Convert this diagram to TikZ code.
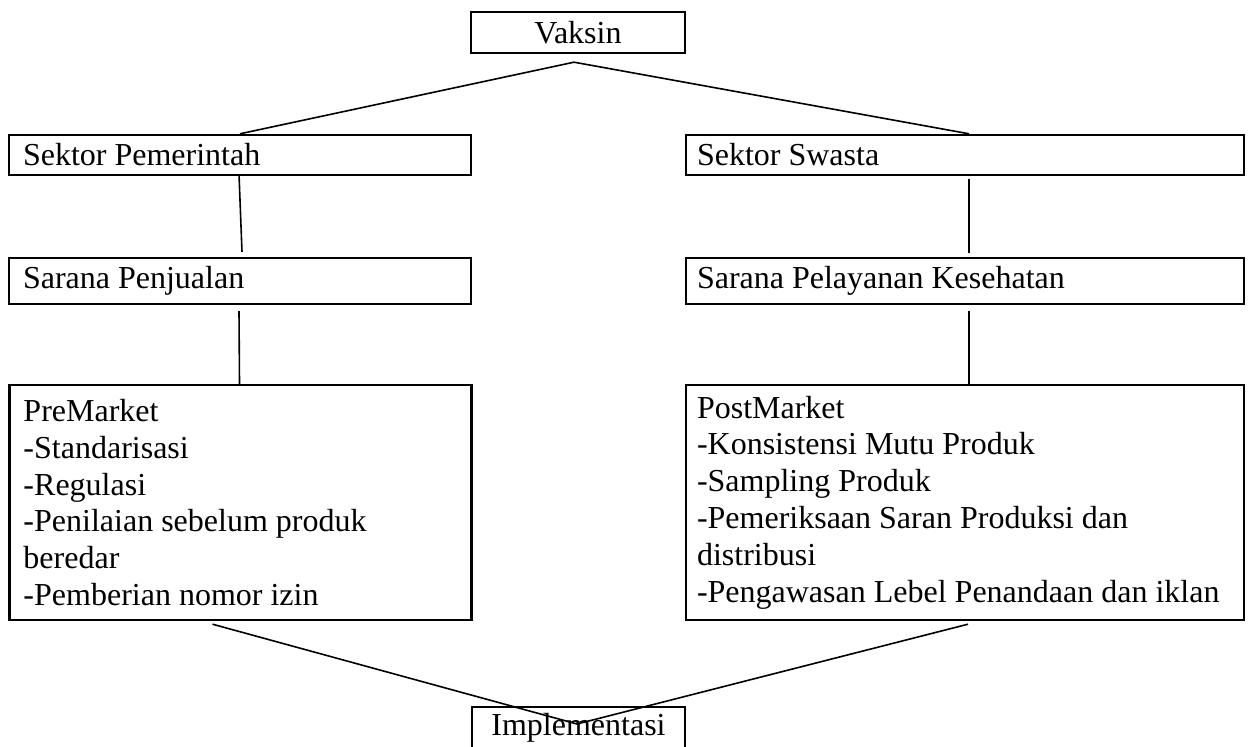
\documentclass[tikz,border=0pt]{standalone}
\usepackage{fontspec}
\setmainfont{Liberation Serif}
\usepackage{tikz}

\begin{document}
\begin{tikzpicture}[x=0.5pt,y=-0.5pt]
            \tikzstyle{box node}=[draw,line width=1.2pt,rectangle,inner xsep=7pt,inner ysep=0pt,align=flush left,font=\fontsize{16}{18.4}\selectfont]
            \tikzstyle{link}=[line width=0.8pt]
            \useasboundingbox (0,0) rectangle (1251,747);
            \clip (0,0) rectangle (1251,747);

            \node[box node,align=flush center,text width=93pt,minimum height=20.5pt] (V) at (578,32.5) {Vaksin};
            \node[box node,text width=217pt,minimum height=20pt] (SP) at (240,155) {Sektor Pemerintah};
            \node[box node,inner xsep=5.5pt,text width=268pt,minimum height=20pt] (SS) at (965,155) {Sektor Swasta};
            \node[box node,text width=217pt,minimum height=23pt] (PJ) at (240,281) {Sarana Penjualan};
            \node[box node,inner xsep=5.5pt,text width=268pt,minimum height=23pt] (PK) at (965,281) {Sarana Pelayanan Kesehatan};
            \node[box node,text width=217pt,minimum height=117.5pt] (Pre) at (240.5,502.5) {PreMarket\\-Standarisasi\\-Regulasi\\-Penilaian sebelum produk\\beredar\\-Pemberian nomor izin};
            \node[box node,inner xsep=5.5pt,text width=268pt,minimum height=117.5pt] (Post) at (965,502.5) {PostMarket\\-Konsistensi Mutu Produk\\-Sampling Produk\\-Pemeriksaan Saran Produksi dan\\distribusi\\-Pengawasan Lebel Penandaan dan iklan};
            \node[box node,align=flush center,text width=92.5pt,minimum height=21pt] (I) at (578.5,728) {Implementasi};

            \coordinate (Vt) at ([xshift=-2pt,yshift=-4pt]V.south);
            \coordinate (It) at ([xshift=-0.75pt,yshift=2pt]I.center);

            \draw[link] (Vt) -- (SP.north);
            \draw[link] (Vt) -- ([xshift=2pt]SS.north);
            \draw[link] ([xshift=-0.5pt,yshift=1pt]SP.south) -- ([xshift=1pt,yshift=2.5pt]PJ.north);
            \draw[link] ([xshift=2pt,yshift=-1.5pt]SS.south) -- ([xshift=2pt,yshift=2pt]PK.north);
            \draw[link] ([xshift=-0.5pt,yshift=-3pt]PJ.south) -- ([xshift=-0.5pt]Pre.north);
            \draw[link] ([xshift=2pt,yshift=-3pt]PK.south) -- ([xshift=2pt]Post.north);
            \draw[link] ([xshift=-14pt,yshift=-1.5pt]Pre.south) -- (It);
            \draw[link] ([xshift=1.5pt,yshift=-1.5pt]Post.south) -- (It);
        \end{tikzpicture}
\end{document}
